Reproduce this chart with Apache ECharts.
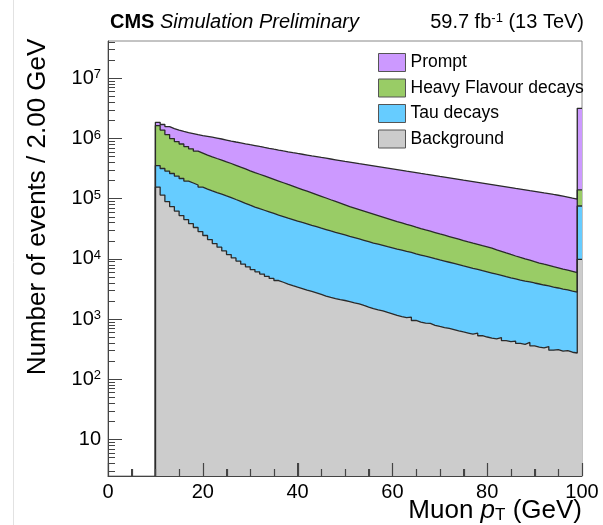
<!DOCTYPE html>
<html><head><meta charset="utf-8">
<script src="https://cdn.jsdelivr.net/npm/echarts@6/dist/echarts.min.js"></script>
<style>html,body{margin:0;padding:0;background:#fff}#c{width:603px;height:525px}</style>
</head><body><div id="c"></div>
<script>
// bin edges (GeV), 1 GeV bins from 10 to 100
const binEdges = [10,11,12,13,14,15,16,17,18,19,20,21,22,23,24,25,26,27,28,29,30,31,32,33,34,35,36,37,38,39,40,41,42,43,44,45,46,47,48,49,50,51,52,53,54,55,56,57,58,59,60,61,62,63,64,65,66,67,68,69,70,71,72,73,74,75,76,77,78,79,80,81,82,83,84,85,86,87,88,89,90,91,92,93,94,95,96,97,98,99,100];

const background = [156300,115100,89800,74100,62500,52600,45100,38700,33300,28500,
24500,21000,18000,15700,13600,11830,10400,9200,8200,7400,
6670,6100,5600,5150,4750,4380,4100,3820,3600,3400,
3220,3030,2880,2730,2570,2420,2300,2200,2110,2040,
1960,1870,1800,1690,1590,1500,1430,1370,1290,1220,
1150,1100,1060,1080,950,895,860,850,790,755,
725,700,670,640,612,588,565,585,530,505,
485,470,495,440,422,430,395,382,410,360,
344,334,350,305,312,295,300,282,274,9850];

const tauDecays = [199300,202600,198600,188300,175800,164100,151700,143700,135700,127800,
120400,114400,108800,103400,98000,92900,86800,81100,75700,70700,
66100,62300,58800,55400,52200,49200,46500,43900,41500,39200,
37100,35200,33300,31600,29900,28400,26900,25500,24200,22950,
21760,20680,19650,18680,17750,16870,16120,15400,14720,14070,
13440,12850,12280,11740,11220,10720,10230,9770,9330,8900,
8500,8110,7750,7400,7060,6740,6435,6140,5865,5600,
5345,5100,4860,4640,4425,4220,4065,3910,3765,3625,
3490,3355,3225,3100,2980,2865,2755,2650,2546,65850];

const heavyFlavour = [1288400,1066300,875600,737600,652700,594300,539200,492600,450000,417700,
387100,362000,339200,318000,298500,280300,261800,244500,228400,213300,
199500,186700,174700,163500,153000,143200,133700,124900,116700,109000,
101900,95100,88700,82700,77200,72000,67000,62400,58100,54100,
50400,47450,44680,42060,39600,37300,35000,32860,30850,28960,
27200,25680,24240,22880,21600,20400,19320,18300,17330,16410,
15540,14730,13960,13240,12550,11900,11310,10760,10220,9720,
9240,8620,8050,7510,7010,6540,6130,5740,5380,5040,
4720,4480,4250,4030,3830,3630,3460,3290,3120,64300];

const prompt = [214000,326000,417000,466000,493000,507000,523000,536000,545000,548000,
557000,556000,553000,545000,535000,523000,517000,511000,505000,499000,
493000,483400,474000,464800,455800,447000,438500,430100,421900,413900,
406000,398100,390300,382700,375200,368000,360700,353600,346600,339700,
333000,325200,317600,310200,303000,296000,288900,281900,275100,268500,
262000,255500,249100,242900,236900,231000,225300,219800,214400,209100,
204000,198700,193600,188600,183700,179000,174400,169900,165500,161200,
157100,153000,149000,145200,141400,137700,134100,130600,127100,123800,
120500,117000,113700,110400,107200,104100,100300,96500,92960,3040000];

const xMajorTicks = [0,20,40,60,80,100];
const xMinorTicks = [5,10,15,25,30,35,45,50,55,65,70,75,85,90,95];
const yMajorTicks = [10,100,1000,10000,100000,1000000,10000000];
const yMinorMultipliers = [2,3,4,5,6,7,8,9];
const Y_MIN = 2.48, Y_MAX = 4.17e7;
const X_MIN = 0, X_MAX = 100, X_INTERVAL = 20;

const yMinorTicks = [];
[1].concat(yMajorTicks).forEach(d => yMinorMultipliers.forEach(m => {
  const v = d * m; if (v > Y_MIN && v < Y_MAX) yMinorTicks.push(v);
}));

// stacked (cumulative) tops, bottom to top: Background, Tau, Heavy Flavour, Prompt
const cumBkg = background.slice();
const cumTau = cumBkg.map((v, i) => v + tauDecays[i]);
const cumHF = cumTau.map((v, i) => v + heavyFlavour[i]);
const cumAll = cumHF.map((v, i) => v + prompt[i]);

const FONT = '"Liberation Sans", Arial, Helvetica, sans-serif';
const TICK = '#444';

function stepData(vals) {
  const d = [[binEdges[0], Y_MIN]];
  for (let i = 0; i < vals.length; i++) d.push([binEdges[i], vals[i]]);
  d.push([binEdges[vals.length], vals[vals.length - 1]]);
  return d;
}
function mk(name, vals, color, yIdx) {
  return {
    name, type: 'line', step: 'end', yAxisIndex: yIdx || 0,
    symbol: 'none', showSymbol: false, data: stepData(vals),
    color: color, itemStyle: { color: color },
    lineStyle: { color: '#2a2a2a', width: 1.3 },
    areaStyle: { color: color, opacity: 1, origin: 'start' },
    emphasis: { disabled: true }, silent: true, clip: true, z: 2
  };
}

// x-axis ticks drawn on top of the filled histograms (inside, ROOT style)
const xTickData = xMajorTicks.map(v => [v, Y_MIN, 13]).concat(xMinorTicks.map(v => [v, Y_MIN, 7]));
const xTickSeries = {
  type: 'custom', name: 'xticks', silent: true, z: 20, clip: false,
  encode: { x: 0, y: 1 }, data: xTickData,
  renderItem: function (params, api) {
    const p = api.coord([api.value(0), api.value(1)]);
    const len = api.value(2);
    const x = Math.round(p[0]) + 0.5;
    return { type: 'line', shape: { x1: x, y1: p[1], x2: x, y2: p[1] - len }, style: { stroke: TICK, lineWidth: 1.2 } };
  }
};

const chart = echarts.init(document.getElementById('c'), null, { renderer: 'canvas' });
chart.setOption({
  animation: false,
  backgroundColor: '#fff',
  grid: { left: 108, right: 21, top: 41, bottom: 49, show: true, borderColor: '#888', borderWidth: 1 },
  xAxis: {
    type: 'value', min: X_MIN, max: X_MAX, interval: X_INTERVAL, z: 5,
    axisLine: { show: true, lineStyle: { color: TICK, width: 1 } },
    axisTick: { show: true, inside: true, length: 13, lineStyle: { color: TICK } },
    minorTick: { show: true, splitNumber: 4, length: 7, lineStyle: { color: TICK } },
    splitLine: { show: false },
    axisLabel: { fontSize: 20, color: '#000', margin: 6, fontFamily: FONT }
  },
  yAxis: [{
    type: 'log', logBase: 10, min: Y_MIN, max: Y_MAX, z: 5,
    axisLine: { show: true, lineStyle: { color: TICK, width: 1 } },
    axisTick: { show: true, inside: true, length: 14, customValues: yMajorTicks, lineStyle: { color: TICK } },
    splitLine: { show: false },
    axisLabel: {
      customValues: yMajorTicks, fontSize: 20, color: '#000', margin: 7, fontFamily: FONT,
      formatter: function (v) { const e = Math.round(Math.log10(v)); return e === 1 ? '10' : '10{sup|' + e + '}'; },
      rich: { sup: { fontSize: 13, color: '#000', fontFamily: FONT, verticalAlign: 'top' } }
    }
  }, {
    type: 'log', logBase: 10, min: Y_MIN, max: Y_MAX, position: 'left', offset: 0, z: 5,
    axisLine: { show: false },
    axisTick: { show: true, inside: true, length: 7, customValues: yMinorTicks, lineStyle: { color: TICK } },
    axisLabel: { show: false, customValues: yMinorTicks }, splitLine: { show: false }
  }],
  legend: {
    orient: 'vertical', left: 373, top: 48, itemWidth: 27, itemHeight: 18, itemGap: 6.5,
    icon: 'rect', selectedMode: false,
    textStyle: { fontSize: 17.5, color: '#000', fontFamily: FONT, lineHeight: 18 },
    itemStyle: { borderColor: '#555', borderWidth: 1 },
    data: ['Prompt', 'Heavy Flavour decays', 'Tau decays', 'Background']
  },
  series: [
    mk('Prompt', cumAll, '#cc99ff', 1),
    mk('Heavy Flavour decays', cumHF, '#99cc66', 0),
    mk('Tau decays', cumTau, '#66ccff', 0),
    mk('Background', cumBkg, '#cccccc', 0),
    xTickSeries
  ],
  graphic: [
    { type: 'line', silent: true, shape: { x1: 13.5, y1: 0, x2: 13.5, y2: 525 }, style: { stroke: '#e2e2e2', lineWidth: 1 } },
    { type: 'text', silent: true, x: 110, y: 22, style: {
      text: '{b|CMS} {i|Simulation Preliminary}', fontSize: 20, fontFamily: FONT, fill: '#000', align: 'left', verticalAlign: 'middle',
      rich: { b: { fontWeight: 'bold', fontSize: 20, fontFamily: FONT, fill: '#000' }, i: { fontStyle: 'italic', fontSize: 20, fontFamily: FONT, fill: '#000' } } } },
    { type: 'text', silent: true, x: 584, y: 22, style: {
      text: '59.7 fb{sup|-1} (13 TeV)', fontSize: 20, fontFamily: FONT, fill: '#000', align: 'right', verticalAlign: 'middle',
      rich: { sup: { fontSize: 13, fontFamily: FONT, fill: '#000', verticalAlign: 'top' } } } },
    { type: 'text', silent: true, x: 38, y: 207, rotation: Math.PI / 2, style: {
      text: 'Number of events / 2.00 GeV', fontSize: 26, fontFamily: FONT, fill: '#000', align: 'center', verticalAlign: 'middle' } },
    { type: 'text', silent: true, x: 582, y: 511, style: {
      text: 'Muon {i|p}{s|T} (GeV)', fontSize: 26, fontFamily: FONT, fill: '#000', align: 'right', verticalAlign: 'middle',
      rich: { i: { fontStyle: 'italic', fontSize: 26, fontFamily: FONT, fill: '#000' }, s: { fontSize: 17, fontFamily: FONT, fill: '#000', verticalAlign: 'bottom' } } } }
  ]
});
</script>
</body></html>
